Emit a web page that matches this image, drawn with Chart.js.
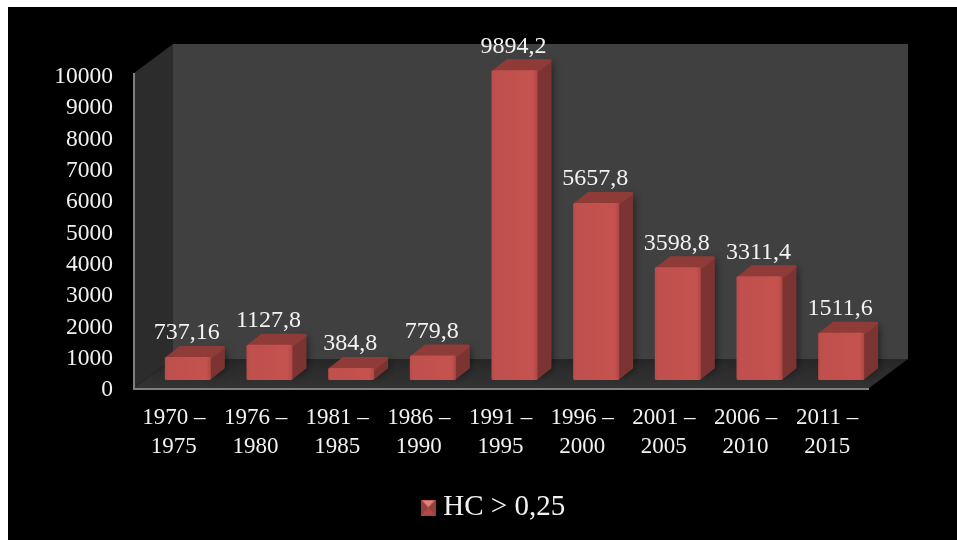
<!DOCTYPE html>
<html>
<head>
<meta charset="utf-8">
<style>
    html, body { margin: 0; padding: 0; background: #fff; }
    #wrap { width: 957px; height: 540px; position: relative; }
</style>
<script src="https://cdn.jsdelivr.net/npm/chart.js@4"></script>
</head>
<body>
<div id="wrap"><canvas id="chart" width="957" height="540"></canvas></div>
<script>
    const categories = [
        ['1970 –', '1975'], ['1976 –', '1980'], ['1981 –', '1985'],
        ['1986 –', '1990'], ['1991 –', '1995'], ['1996 –', '2000'],
        ['2001 –', '2005'], ['2006 –', '2010'], ['2011 –', '2015']
    ];
    const seriesName = 'HC > 0,25';
    const seriesValues = [737.16, 1127.8, 384.8, 779.8, 9894.2, 5657.8, 3598.8, 3311.4, 1511.6];

    const FONT = '"Liberation Serif", "Times New Roman", serif';
    const TEXT = '#f2f2f2';

    // Box depth of the walls and of the bars
    const WALL_DX = 39, WALL_DY = 29;
    const BAR_DX = 14, BAR_DY = 11;
    // Bars stand in the middle of the floor, not on its front edge
    const BAR_SHIFT_X = 13, BAR_SHIFT_Y = 8;

    function poly(ctx, pts, fill) {
        ctx.beginPath();
        pts.forEach((p, i) => i ? ctx.lineTo(p[0], p[1]) : ctx.moveTo(p[0], p[1]));
        ctx.closePath();
        ctx.fillStyle = fill;
        ctx.fill();
    }

    // Small bevelled square used as the legend marker
    function legendIcon() {
        const c = document.createElement('canvas');
        c.width = 15;
        c.height = 16;
        const g = c.getContext('2d');
        g.fillStyle = '#a8443f';
        g.fillRect(0, 0, 15, 16);
        poly(g, [[1, 1], [14, 1], [7.5, 8]], '#e2827c');
        poly(g, [[1, 15], [14, 15], [7.5, 8]], '#b24a47');
        poly(g, [[0, 0], [7.5, 8], [0, 16]], '#96403d');
        poly(g, [[15, 0], [7.5, 8], [15, 16]], '#96403d');
        return c;
    }

    // Page backdrop, walls and floor
    const boxPlugin = {
        id: 'box',
        beforeDraw(chart) {
            const ctx = chart.ctx;
            const a = chart.chartArea;
            const top = a.top - 2;
            ctx.save();
            ctx.fillStyle = '#000';
            ctx.fillRect(8, 7, 949, 533);

            poly(ctx, [[a.left + WALL_DX, top - WALL_DY], [a.right + WALL_DX, top - WALL_DY],
                [a.right + WALL_DX, a.bottom - WALL_DY], [a.left + WALL_DX, a.bottom - WALL_DY]], '#404040');
            poly(ctx, [[a.left, top], [a.left + WALL_DX, top - WALL_DY],
                [a.left + WALL_DX, a.bottom - WALL_DY], [a.left, a.bottom]], '#2c2c2c');

            const floor = ctx.createLinearGradient(0, a.bottom - WALL_DY, 0, a.bottom);
            floor.addColorStop(0, '#262626');
            floor.addColorStop(0.3, '#2b2b2b');
            floor.addColorStop(1, '#333333');
            poly(ctx, [[a.left, a.bottom], [a.left + WALL_DX, a.bottom - WALL_DY],
                [a.right + WALL_DX, a.bottom - WALL_DY], [a.right, a.bottom]], floor);

            // Light edge along the value axis and the front of the floor
            ctx.fillStyle = '#7f7f7f';
            ctx.fillRect(a.left - 1, top, 2, a.bottom - top + 2);
            ctx.fillRect(a.left - 1, a.bottom, a.right - a.left + 1, 2);
            ctx.restore();
        },
        afterLayout(chart) {
            // Legend sits right of the canvas centre
            chart.legend.left += 62;
            chart.legend.right += 62;
        },
        afterDatasetsDraw(chart) {
            const ctx = chart.ctx;
            const bars = chart.getDatasetMeta(0).data;
            ctx.save();
            ctx.lineJoin = 'round';
            ctx.lineWidth = 3;
            bars.forEach((bar) => {
                const half = bar.width / 2;
                const x0 = bar.x + BAR_SHIFT_X - half + 1.5;
                const x1 = bar.x + BAR_SHIFT_X + half - 1.5;
                const yt = bar.y - BAR_SHIFT_Y + 1.5;
                const yb = bar.base - BAR_SHIFT_Y - 1.5;

                const side = [[x1, yt], [x1 + BAR_DX, yt - BAR_DY], [x1 + BAR_DX, yb - BAR_DY], [x1, yb]];
                const lid = [[x0, yt], [x0 + BAR_DX, yt - BAR_DY], [x1 + BAR_DX, yt - BAR_DY], [x1, yt]];

                // Soft shadow on the floor behind the block
                ctx.save();
                ctx.shadowColor = 'rgba(0,0,0,0.6)';
                ctx.shadowBlur = 9;
                ctx.shadowOffsetX = 2;
                poly(ctx, side, '#7c3432');
                ctx.restore();

                [[side, '#7c3432'], [lid, '#8f3b38']].forEach(f => {
                    poly(ctx, f[0], f[1]);
                    ctx.strokeStyle = f[1];
                    ctx.stroke();
                });

                const front = ctx.createLinearGradient(x0 - 1.5, 0, x1 + 1.5, 0);
                front.addColorStop(0, '#b84c49');
                front.addColorStop(0.08, '#bf504d');
                front.addColorStop(0.9, '#c5524f');
                front.addColorStop(1, '#ad4744');
                poly(ctx, [[x0, yt], [x1, yt], [x1, yb], [x0, yb]], front);
                ctx.strokeStyle = front;
                ctx.stroke();
            });

            // Value labels, with a decimal comma
            ctx.font = '24px ' + FONT;
            ctx.fillStyle = TEXT;
            ctx.textAlign = 'center';
            ctx.textBaseline = 'middle';
            bars.forEach((bar, i) => {
                const text = String(seriesValues[i]).replace('.', ',');
                ctx.fillText(text, bar.x + BAR_SHIFT_X - 1, bar.y - BAR_SHIFT_Y - 24);
            });
            ctx.restore();
        }
    };

    new Chart(document.getElementById('chart').getContext('2d'), {
        type: 'bar',
        data: {
            labels: categories,
            datasets: [{
                label: seriesName,
                data: seriesValues,
                backgroundColor: 'transparent',
                borderWidth: 0,
                barPercentage: 0.563,
                categoryPercentage: 1
            }]
        },
        plugins: [boxPlugin],
        options: {
            responsive: false,
            animation: false,
            layout: { padding: { top: 75, right: 88, left: 0, bottom: 8 } },
            scales: {
                x: {
                    grid: { display: false, drawTicks: false },
                    border: { display: false },
                    ticks: {
                        color: TEXT,
                        font: { family: FONT, size: 23, lineHeight: 1.25 },
                        padding: 16,
                        labelOffset: -1,
                        autoSkip: false,
                        maxRotation: 0
                    },
                    afterFit(scale) { scale.height = 99; }
                },
                y: {
                    min: 0,
                    max: 10000,
                    grid: { display: false, drawTicks: false },
                    border: { display: false },
                    ticks: {
                        color: TEXT,
                        font: { family: FONT, size: 23.5 },
                        stepSize: 1000,
                        padding: 21,
                        labelOffset: 2,
                        callback: value => String(value)
                    },
                    afterFit(scale) { scale.width = 134; }
                }
            },
            plugins: {
                tooltip: { enabled: false },
                legend: {
                    position: 'bottom',
                    labels: {
                        color: TEXT,
                        font: { family: FONT, size: 29 },
                        usePointStyle: true,
                        pointStyle: legendIcon(),
                        pointStyleWidth: 1,
                        padding: 6
                    }
                }
            }
        }
    });
</script>
</body>
</html>
